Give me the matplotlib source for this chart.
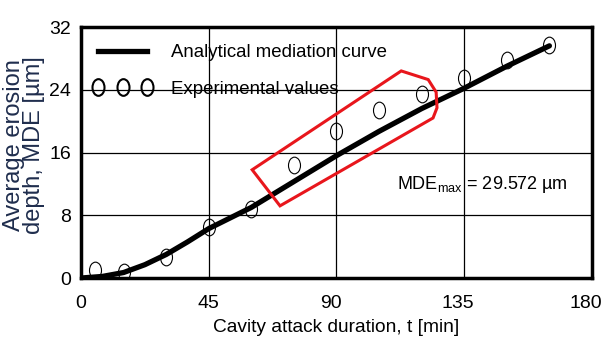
import matplotlib
matplotlib.use('Agg')
import matplotlib.pyplot as plt
import matplotlib.transforms as mtransforms
from matplotlib.lines import Line2D
from matplotlib.path import Path
from matplotlib.patches import Polygon

plt.rcParams['font.family'] = ['Liberation Sans', 'DejaVu Sans']
plt.rcParams['mathtext.fontset'] = 'custom'
plt.rcParams['mathtext.rm'] = 'Liberation Sans'

# analytical mediation curve
curve_t = [0, 7.5, 15, 22.5, 30, 37.5, 45, 60, 75, 90, 105, 120, 135, 150, 165]
curve_mde = [0, 0.2, 0.7, 1.7, 3.0, 4.6, 6.3, 9.0, 12.3, 15.6, 18.7, 21.6, 24.2, 27.0, 29.6]

# experimental values
exp_t = [5, 15, 30, 45, 60, 75, 90, 105, 120, 135, 150, 165]
exp_mde = [1.0, 0.8, 2.7, 6.5, 8.8, 14.4, 18.8, 21.4, 23.5, 25.5, 27.8, 29.7]

# red highlight outline
zone_t = [60.3, 70.1, 124.0, 125.4, 125.1, 122.3, 112.8]
zone_mde = [13.8, 9.2, 20.4, 21.7, 23.7, 25.3, 26.4]

x_ticks = [0, 45, 90, 135, 180]
y_ticks = [0, 8, 16, 24, 32]

# tall ellipse marker like the original
circ = Path.unit_circle()
ellipse = Path(circ.vertices * [0.72, 1.0], circ.codes)

fig = plt.figure(figsize=(6.01, 3.49), dpi=100)
ax = fig.add_axes([0.1348, 0.2034, 0.8502, 0.7192])

ax.plot(exp_t, exp_mde, linestyle='none', marker=ellipse, markersize=12,
        markerfacecolor='none', markeredgecolor='black', markeredgewidth=0.8, zorder=3)
ax.plot(curve_t, curve_mde, color='black', lw=3.8, solid_capstyle='round', zorder=4)
ax.add_patch(Polygon(list(zip(zone_t, zone_mde)), closed=True, fill=False,
                     edgecolor='#e8161c', lw=2.2, zorder=5))

ax.set_xlim(0, 180)
ax.set_ylim(0, 32)
ax.set_xticks(x_ticks)
ax.set_yticks(y_ticks)
ax.tick_params(length=0, labelsize=14)
ax.tick_params(axis='x', pad=12)
ax.tick_params(axis='y', pad=7)
ax.grid(True, color='black', lw=0.9)
ax.set_axisbelow(True)
for s in ax.spines.values():
    s.set_linewidth(2.5)

# nudge the right-hand tick labels a little to the left, as in the original
for lab in ax.get_xticklabels()[2:]:
    lab.set_transform(lab.get_transform() +
                      mtransforms.ScaledTranslation(-6 / 100, 0, fig.dpi_scale_trans))

ax.set_xlabel('Cavity attack duration, t [min]', fontsize=13.8, labelpad=5)
ax.set_ylabel('Average erosion\ndepth, MDE [\u00b5m]', fontsize=17, color='#1f2d4d',
              linespacing=0.88)
ax.yaxis.set_label_coords(-0.07, 0.53)

ax.text(111.4, 11.9, 'MDE$_{\\mathrm{max}}$ = 29.572 \u00b5m', fontsize=13,
        ha='left', va='center')

handles = [Line2D([], [], color='black', lw=3.8),
           Line2D([], [], linestyle='none', marker=ellipse, markersize=12,
                  markerfacecolor='none', markeredgecolor='black', markeredgewidth=1.5)]
ax.legend(handles, ['Analytical mediation curve', 'Experimental values'],
          loc='upper left', bbox_to_anchor=(-0.008, 0.995), frameon=False, fontsize=13.4,
          numpoints=3, handlelength=3.2, handletextpad=1.0, labelspacing=1.05,
          borderaxespad=0.45)

fig.savefig('out.png', dpi=100)
